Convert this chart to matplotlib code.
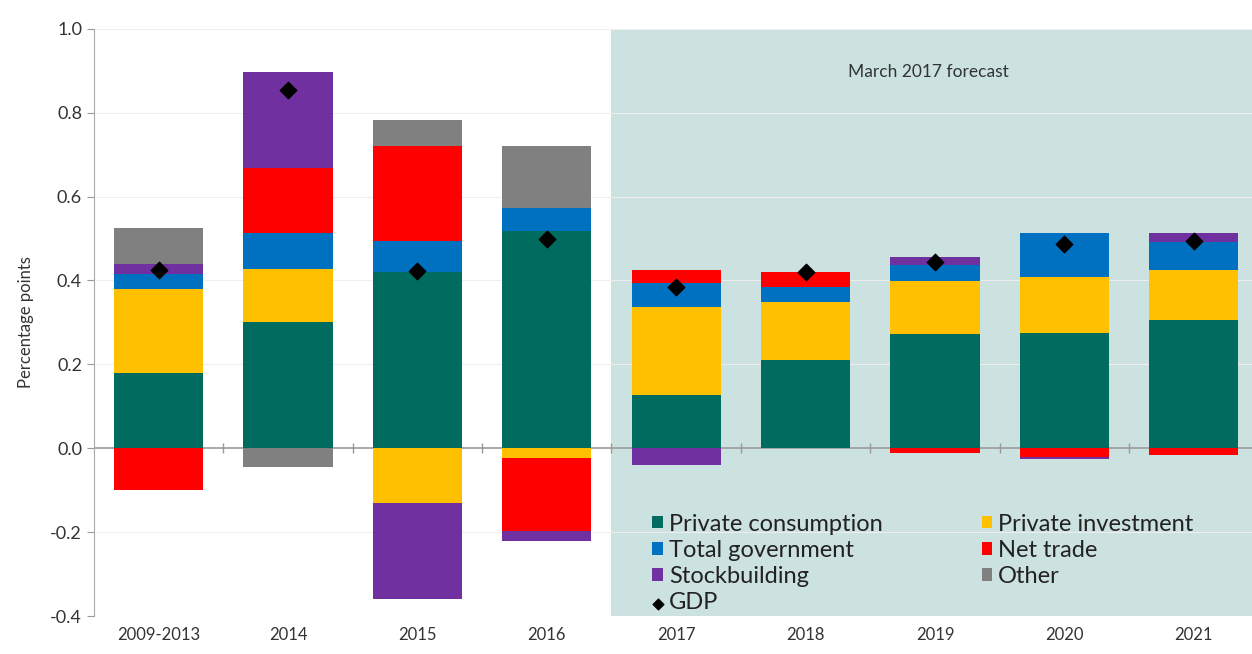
import matplotlib.pyplot as plt
import numpy as np

# Data (percentage points)
years = ["2009-2013", "2014", "2015", "2016", "2017", "2018", "2019", "2020", "2021"]
consumption = [0.18, 0.30, 0.42, 0.518, 0.126, 0.21, 0.272, 0.275, 0.305]
investment = [0.20, 0.128, -0.13, -0.024, 0.21, 0.138, 0.126, 0.133, 0.119]
government = [0.035, 0.086, 0.075, 0.055, 0.057, 0.036, 0.038, 0.105, 0.067]
net_trade = [-0.10, 0.155, 0.225, -0.174, 0.031, 0.036, -0.012, -0.02, -0.017]
stockbuilding = [0.025, 0.229, -0.23, -0.022, -0.04, 0.0, 0.019, -0.005, 0.021]
other = [0.085, -0.045, 0.063, 0.147, 0.0, 0.0, 0.0, 0.0, 0.0]
gdp = [0.425, 0.855, 0.422, 0.50, 0.384, 0.42, 0.443, 0.487, 0.495]

series = [
    ("Private consumption", consumption, "#006b5f"),
    ("Private investment", investment, "#ffc000"),
    ("Total government", government, "#0070c0"),
    ("Net trade", net_trade, "#ff0000"),
    ("Stockbuilding", stockbuilding, "#7030a0"),
    ("Other", other, "#808080"),
]

plt.rcParams["font.family"] = ["Lato", "DejaVu Sans"]
text_col = "#333333"

fig = plt.figure(figsize=(12.52, 6.54), dpi=100)
ax = fig.add_axes([0.075, 0.058, 0.925, 0.898])

x = np.arange(len(years))
pos_base = np.zeros(len(years))
neg_base = np.zeros(len(years))
handles = {}
for name, vals, col in series:
    v = np.array(vals)
    base = np.where(v >= 0, pos_base, neg_base)
    b = ax.bar(x, v, 0.69, bottom=base, color=col, label=name, zorder=3)
    handles[name] = b
    pos_base = pos_base + np.where(v > 0, v, 0)
    neg_base = neg_base + np.where(v < 0, v, 0)

g = ax.scatter(x, gdp, marker="D", s=70, color="black", zorder=5, label="GDP")

# forecast shading
ax.axvspan(3.5, 8.45, color="#cce2e0", zorder=0, lw=0)
ax.text(5.95, 0.898, "March 2017 forecast", ha="center", va="center",
        fontsize=12.5, color=text_col, zorder=4)

ax.axhline(0, color="#9a9a9a", lw=1.2, zorder=2)
for yv in [-0.4, -0.2, 0.2, 0.4, 0.6, 0.8, 1.0]:
    ax.axhline(yv, color="#eeeeee", lw=0.8, zorder=1)
# small category separators on the zero line
ax.vlines(np.arange(0.5, 8, 1.0), -0.012, 0.012, color="#9a9a9a", lw=1, zorder=2)

ax.set_xlim(-0.5, 8.45)
ax.set_ylim(-0.4, 1.0)
yt = np.arange(-0.4, 1.01, 0.2)
ax.set_yticks(yt)
ax.set_yticklabels(["%.1f" % t for t in yt])
ax.set_xticks(x)
ax.set_xticklabels(years)
ax.tick_params(axis="x", length=0, labelsize=12, colors=text_col, pad=8)
ax.tick_params(axis="y", length=5, color="#999999", labelsize=13, labelcolor=text_col)
ax.set_ylabel("Percentage points", fontsize=12, color=text_col, labelpad=12)

for s in ["top", "right", "bottom"]:
    ax.spines[s].set_visible(False)
ax.spines["left"].set_color("#aaaaaa")

order = ["Private consumption", "Private investment", "Total government",
         "Net trade", "Stockbuilding", "Other"]
h = [handles[n] for n in order] + [g]
labels = order + ["GDP"]
# two columns: left has consumption, government, stockbuilding, GDP
h_cols = [h[0], h[2], h[4], h[6], h[1], h[3], h[5]]
l_cols = [labels[0], labels[2], labels[4], labels[6], labels[1], labels[3], labels[5]]
leg = ax.legend(h_cols, l_cols, ncol=2, loc="lower left", bbox_to_anchor=(0.478, -0.003),
                frameon=False, fontsize=17, handlelength=0.45, handleheight=0.45,
                handletextpad=0.25, columnspacing=4.2, labelspacing=0.22,
                borderaxespad=0, borderpad=0.2, markerscale=0.65)
for t in leg.get_texts():
    t.set_color("#222222")

fig.savefig("out.png", dpi=100)
plt.close()
